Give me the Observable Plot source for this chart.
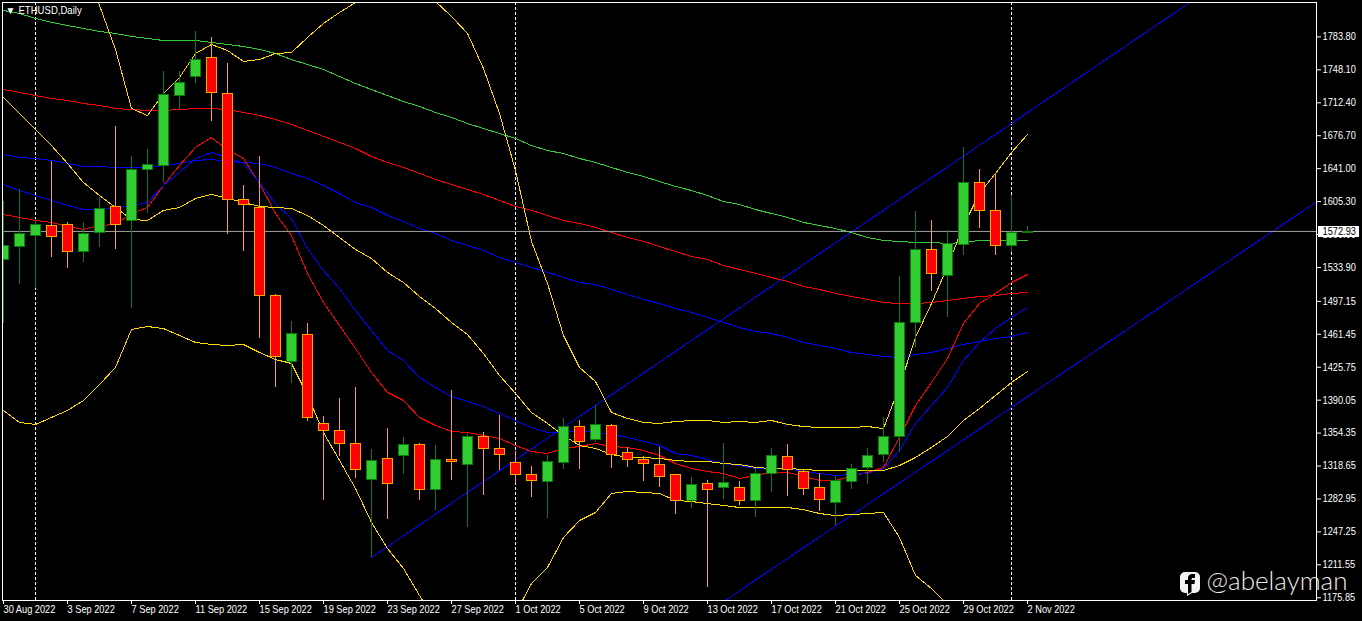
<!DOCTYPE html>
<html><head><meta charset="utf-8">
<style>html,body{margin:0;padding:0;background:#000;overflow:hidden}svg{display:block}</style>
<script src="https://cdn.jsdelivr.net/npm/d3@7"></script>
<script src="https://cdn.jsdelivr.net/npm/@observablehq/plot@0.6"></script>
</head><body><div id="chart"></div>
<script>
const open=[1542.5,1556.6,1568.6,1579.4,1580.5,1551.2,1571.8,1600.0,1584.8,1640.1,1644.4,1720.3,1740.9,1761.5,1722.5,1607.6,1598.9,1503.5,1432.0,1461.2,1364.8,1357.2,1343.1,1304.1,1326.8,1330.1,1342.0,1293.2,1325.7,1320.3,1350.7,1337.7,1322.5,1309.5,1301.9,1322.5,1361.5,1347.4,1362.6,1333.3,1325.7,1320.3,1309.5,1281.3,1299.7,1295.4,1295.4,1281.3,1310.6,1329.0,1312.7,1295.4,1279.1,1301.9,1317.1,1331.2,1350.7,1474.3,1553.4,1525.2,1558.8,1626.0,1595.7,1557.7,1571.8];
const high=[1605.4,1618.4,1585.9,1648.8,1582.7,1582.7,1609.8,1686.7,1654.2,1661.8,1746.3,1746.3,1789.7,1783.2,1755.0,1622.8,1654.2,1504.6,1475.3,1473.2,1372.4,1391.9,1403.8,1336.6,1359.3,1349.6,1343.1,1340.9,1400.5,1353.9,1355.0,1373.4,1334.4,1318.2,1330.1,1370.2,1368.0,1384.3,1363.7,1338.8,1329.0,1338.8,1309.5,1306.2,1303.0,1343.1,1301.9,1316.0,1337.7,1342.0,1314.9,1310.6,1307.3,1320.3,1337.7,1371.3,1524.1,1594.6,1584.8,1574.0,1664.0,1640.1,1635.8,1611.9,1578.3];
const low=[1473.2,1515.4,1511.1,1544.7,1532.8,1539.3,1555.6,1553.4,1489.4,1592.4,1626.0,1705.1,1733.3,1692.1,1569.6,1551.2,1456.9,1403.8,1408.1,1366.9,1281.3,1329.0,1305.1,1219.5,1260.7,1309.5,1281.3,1270.5,1303.0,1252.0,1286.7,1313.8,1299.7,1284.6,1261.8,1314.9,1314.9,1344.2,1316.0,1317.1,1301.9,1295.4,1266.1,1272.6,1187.0,1282.4,1275.9,1262.9,1290.0,1285.6,1286.7,1269.4,1254.2,1293.2,1298.6,1322.5,1333.3,1447.2,1507.9,1479.7,1546.9,1576.1,1546.9,1550.1,1571.8];
const close=[1557.7,1570.7,1580.5,1567.5,1551.2,1570.7,1597.8,1580.5,1640.1,1645.5,1721.4,1734.4,1759.3,1723.6,1607.6,1602.2,1503.5,1437.4,1462.3,1371.3,1357.2,1343.1,1314.9,1324.7,1299.7,1342.0,1293.2,1325.7,1323.6,1350.7,1337.7,1331.2,1309.5,1303.0,1323.6,1361.5,1345.3,1363.7,1331.2,1325.7,1321.4,1307.3,1281.3,1298.6,1293.2,1300.8,1281.3,1310.6,1330.1,1314.9,1294.3,1282.4,1303.0,1316.0,1330.1,1350.7,1474.3,1553.4,1527.4,1559.9,1626.0,1595.7,1557.7,1571.8,1572.93];

const maGreen=[1812.5,1809.2,1803.8,1799.5,1796.2,1792.9,1789.7,1787.5,1784.3,1782.1,1779.9,1779.9,1779.9,1777.8,1775.6,1773.4,1770.2,1765.8,1759.3,1753.9,1748.5,1740.9,1733.3,1726.8,1720.3,1713.8,1708.4,1701.9,1696.5,1690.0,1684.5,1679.1,1673.7,1666.1,1660.7,1657.4,1652.0,1647.7,1642.3,1636.9,1632.5,1627.1,1621.7,1617.3,1611.9,1605.4,1602.2,1596.7,1592.4,1588.1,1582.7,1579.4,1576.1,1571.8,1566.4,1563.1,1562.1,1561.0,1561.0,1559.9,1561.0,1563.1,1563.1,1563.1,1563.1];
const maRedSlow=[1726.8,1723.6,1720.3,1717.1,1714.9,1711.6,1709.5,1706.2,1705.1,1704.1,1704.1,1705.1,1706.2,1706.2,1705.1,1701.9,1698.6,1694.3,1688.9,1682.4,1675.9,1669.4,1662.9,1654.2,1647.7,1642.3,1635.8,1629.3,1623.8,1618.4,1613.0,1606.5,1600.0,1595.7,1590.2,1584.8,1581.6,1577.2,1571.8,1566.4,1562.1,1556.6,1551.2,1545.8,1542.5,1536.0,1531.7,1527.4,1523.0,1518.7,1513.3,1510.0,1505.7,1502.4,1499.2,1495.9,1494.8,1494.8,1495.9,1498.1,1500.3,1502.4,1503.5,1505.7,1506.8];
const maBlueSlow=[1656.4,1653.1,1652.0,1649.9,1646.6,1643.4,1643.4,1642.3,1642.3,1642.3,1644.4,1646.6,1649.9,1650.9,1648.8,1647.7,1646.6,1642.3,1635.8,1630.3,1622.8,1614.1,1604.3,1598.9,1590.2,1583.7,1576.1,1570.7,1563.1,1557.7,1552.3,1544.7,1539.3,1533.9,1528.5,1523.0,1517.6,1515.4,1510.0,1504.6,1499.2,1494.8,1489.4,1485.1,1479.7,1474.3,1468.8,1464.5,1462.3,1458.0,1452.6,1449.3,1446.1,1441.7,1439.6,1437.4,1436.3,1439.6,1441.7,1446.1,1450.4,1453.7,1456.9,1459.1,1463.4];
const maRedFast=[1591.3,1588.1,1584.8,1582.7,1578.3,1575.1,1579.4,1580.5,1592.4,1598.9,1622.8,1644.4,1664.0,1674.8,1661.8,1652.0,1624.9,1592.4,1568.6,1527.4,1495.9,1471.0,1446.1,1420.1,1398.4,1389.7,1371.3,1362.6,1356.1,1355.0,1351.8,1348.5,1340.9,1334.4,1332.2,1337.7,1339.8,1343.1,1339.8,1338.8,1335.5,1330.1,1321.4,1316.0,1312.7,1310.6,1305.1,1308.4,1311.7,1311.7,1307.3,1303.0,1303.0,1307.3,1311.7,1317.1,1349.6,1384.3,1409.2,1435.2,1473.2,1494.8,1505.7,1517.6,1526.3];
const maBlueFast=[1623.8,1617.3,1611.9,1606.5,1601.1,1596.7,1596.7,1598.9,1600.0,1604.3,1622.8,1636.9,1652.0,1658.5,1653.1,1646.6,1626.0,1603.2,1587.0,1554.5,1530.6,1511.1,1487.3,1465.6,1443.9,1433.1,1414.6,1403.8,1394.0,1388.6,1383.2,1375.6,1368.0,1360.4,1355.0,1355.0,1357.2,1355.0,1352.8,1349.6,1345.3,1340.9,1332.2,1330.1,1325.7,1321.4,1319.2,1316.0,1316.0,1316.0,1312.7,1310.6,1308.4,1309.5,1310.6,1316.0,1335.5,1364.8,1384.3,1403.8,1433.1,1452.6,1467.7,1479.7,1490.5];
const bandUpper=[2029.3,2002.2,1975.1,1942.5,1904.6,1861.2,1817.9,1770.2,1706.2,1698.6,1722.5,1739.8,1765.8,1775.6,1769.1,1757.2,1759.3,1765.8,1766.9,1783.2,1798.4,1810.3,1821.1,1832.0,1836.3,1834.1,1828.7,1822.2,1806.0,1787.5,1749.6,1700.8,1639.0,1562.1,1516.5,1460.2,1425.5,1410.3,1376.7,1370.2,1365.9,1364.8,1366.9,1368.0,1368.0,1365.9,1366.9,1365.9,1368.0,1363.7,1361.5,1360.4,1360.4,1360.4,1361.5,1359.3,1404.9,1458.0,1494.8,1535.0,1579.4,1614.1,1635.8,1658.5,1678.0];
const bandMiddle=[1718.2,1700.8,1683.5,1666.1,1646.6,1626.0,1611.9,1598.9,1585.9,1584.8,1595.7,1598.9,1608.7,1613.0,1608.7,1604.3,1600.0,1598.9,1597.8,1590.2,1579.4,1566.4,1553.4,1543.6,1528.5,1517.6,1502.4,1489.4,1474.3,1461.2,1440.6,1416.8,1397.3,1376.7,1364.8,1351.8,1340.9,1337.7,1331.2,1327.9,1327.9,1326.8,1324.7,1323.6,1323.6,1321.4,1320.3,1317.1,1316.0,1316.0,1314.9,1313.8,1313.8,1313.8,1313.8,1313.8,1319.2,1327.9,1338.8,1350.7,1368.0,1381.0,1395.1,1409.2,1421.1];
const bandLower=[1378.9,1365.9,1363.7,1371.3,1378.9,1389.7,1407.0,1425.5,1466.7,1469.9,1467.7,1460.2,1452.6,1450.4,1449.3,1450.4,1441.7,1434.1,1429.8,1395.1,1355.0,1324.7,1294.3,1257.5,1229.3,1207.6,1178.3,1151.2,1129.5,1118.7,1124.1,1145.8,1158.8,1191.3,1208.7,1241.2,1259.6,1268.3,1288.9,1291.1,1290.0,1288.9,1281.3,1280.2,1278.0,1275.9,1273.7,1273.7,1273.7,1273.7,1271.5,1267.2,1265.0,1266.1,1267.2,1268.3,1241.2,1200.0,1185.9,1168.6,1140.4,1107.9,1091.6,1075.3,1064.5];

const channelUpperBar=[23,75], channelUpperPrice=[1219.5,1831.1];
const channelLowerBar=[44,82.1], channelLowerPrice=[1160.0,1605.5];

const monthStartBars=[2,32,63];
const priceTicks=[1783.80,1748.10,1712.40,1676.70,1641.00,1605.30,1569.60,1533.90,1497.15,1461.45,1425.75,1390.05,1354.35,1318.65,1282.95,1247.25,1211.55,1175.85];
const dateTickBars=[0,4,8,12,16,20,24,28,32,36,40,44,48,52,56,60,64];
const dateTickLabels=["30 Aug 2022","3 Sep 2022","7 Sep 2022","11 Sep 2022","15 Sep 2022","19 Sep 2022","23 Sep 2022","27 Sep 2022","1 Oct 2022","5 Oct 2022","9 Oct 2022","13 Oct 2022","17 Oct 2022","21 Oct 2022","25 Oct 2022","29 Oct 2022","2 Nov 2022"];
const lastPrice=1572.93;
const chartTitle="ETHUSD,Daily";
const watermark="@abelayman";
const menuMarker="\u25BC";

const bars=d3.range(open.length);
const UP_FILL="#32cd32",UP_EDGE="#0b7a0b",DOWN_FILL="#ff0000",DOWN_EDGE="#ffa500";
const up=i=>close[i]>=open[i];
const FONT="'Liberation Sans',sans-serif";

const series=(vals,stroke)=>Plot.line(bars,{x:i=>i,y:i=>vals[i],stroke,strokeWidth:1,clip:true,shapeRendering:"crispEdges"});
const trend=(xs,ys)=>Plot.line(xs.map((x,k)=>({x,y:ys[k]})),{x:"x",y:"y",stroke:"#0000ff",strokeWidth:1,clip:true,shapeRendering:"crispEdges"});

const icon=()=>{
  const g=d3.create("svg:g");
  g.append("path").attr("fill","#f4f4f4").attr("fill-rule","evenodd")
   .attr("d","M1185 572h10a5 5 0 0 1 5 5v11a5 5 0 0 1-5 5h-3l-5 3v-3h-2a5 5 0 0 1-5-5v-11a5 5 0 0 1 5-5z");
  g.append("path").attr("fill","#000")
   .attr("d","M1188 594v-10h-3v-4h3v-2c0-3 2-4 4-4h3v4h-2c-1 0-1.500.500-1.500 1.500v.500h3.500l-.5 4h-3v8z");
  return g.node();
};

const chart=Plot.plot({
  width:1362,height:621,
  marginLeft:2,marginRight:46,marginTop:2,marginBottom:21,
  x:{domain:[-0.0625,82.0625],axis:null},
  y:{domain:[1172.9,1821.1],axis:null},
  style:{background:"#000",color:"#fff",fontFamily:FONT,fontSize:"10.5px"},
  marks:[
    Plot.ruleX(monthStartBars,{stroke:"#fff",strokeDasharray:"3,2"}),
    trend(channelUpperBar,channelUpperPrice),
    trend(channelLowerBar,channelLowerPrice),
    series(maGreen,"#32cd32"),
    series(maRedSlow,"#ff0000"),
    series(maBlueSlow,"#0000ff"),
    series(maRedFast,"#ff0000"),
    series(maBlueFast,"#0000ff"),
    series(bandUpper,"#ffd700"),
    series(bandMiddle,"#ffd700"),
    series(bandLower,"#ffd700"),
    Plot.ruleY([lastPrice],{stroke:"#a0a0a0"}),
    Plot.ruleX(bars,{x:i=>i,y1:i=>low[i],y2:i=>high[i],stroke:i=>up(i)?UP_EDGE:DOWN_EDGE,strokeWidth:1,shapeRendering:"crispEdges",clip:true}),
    Plot.rect(bars,{x1:i=>i-0.3125,x2:i=>i+0.3125,y1:i=>open[i],y2:i=>close[i],fill:i=>up(i)?UP_FILL:DOWN_FILL,stroke:i=>up(i)?UP_EDGE:DOWN_EDGE,strokeWidth:1,dx:0.5,dy:0.7,shapeRendering:"crispEdges",clip:true}),
    Plot.frame({stroke:"#fff"}),
    Plot.axisY(priceTicks,{anchor:"right",tickSize:4,tickPadding:2,tickFormat:d=>d.toFixed(2),label:null,stroke:"#fff",color:"#fff"}),
    Plot.axisX(dateTickBars,{anchor:"bottom",tickSize:4,tickPadding:1,textAnchor:"start",tickFormat:(d,k)=>dateTickLabels[k],label:null,color:"#fff"}),
    Plot.ruleY([lastPrice],{x1:82.19,x2:84.75,stroke:"#fff",strokeWidth:11}),
    Plot.text([lastPrice],{x:82.44,y:d=>d,text:d=>d.toFixed(2),textAnchor:"start",fill:"#000"}),
    Plot.text([menuMarker],{frameAnchor:"top-left",dx:3,dy:4,fontSize:10,fill:"#fff"}),
    Plot.text([chartTitle],{frameAnchor:"top-left",dx:16,dy:4,fill:"#fff"}),
    Plot.text([watermark],{frameAnchor:"bottom-right",textAnchor:"end",dx:31,dy:-11,fontSize:26,fontFamily:"Lato",fontWeight:300,fill:"#ececec"}),
    icon
  ]
});
document.getElementById("chart").appendChild(chart);
// condense the small labels to the narrow terminal font's widths
chart.querySelectorAll("text").forEach(t=>{
  if(t.textContent===watermark||t.textContent===menuMarker) return;
  const ratio=t.textContent===chartTitle?0.91:0.88;
  t.setAttribute("textLength",(t.getComputedTextLength()*ratio).toFixed(1));
  t.setAttribute("lengthAdjust","spacingAndGlyphs");
});
</script></body></html>
